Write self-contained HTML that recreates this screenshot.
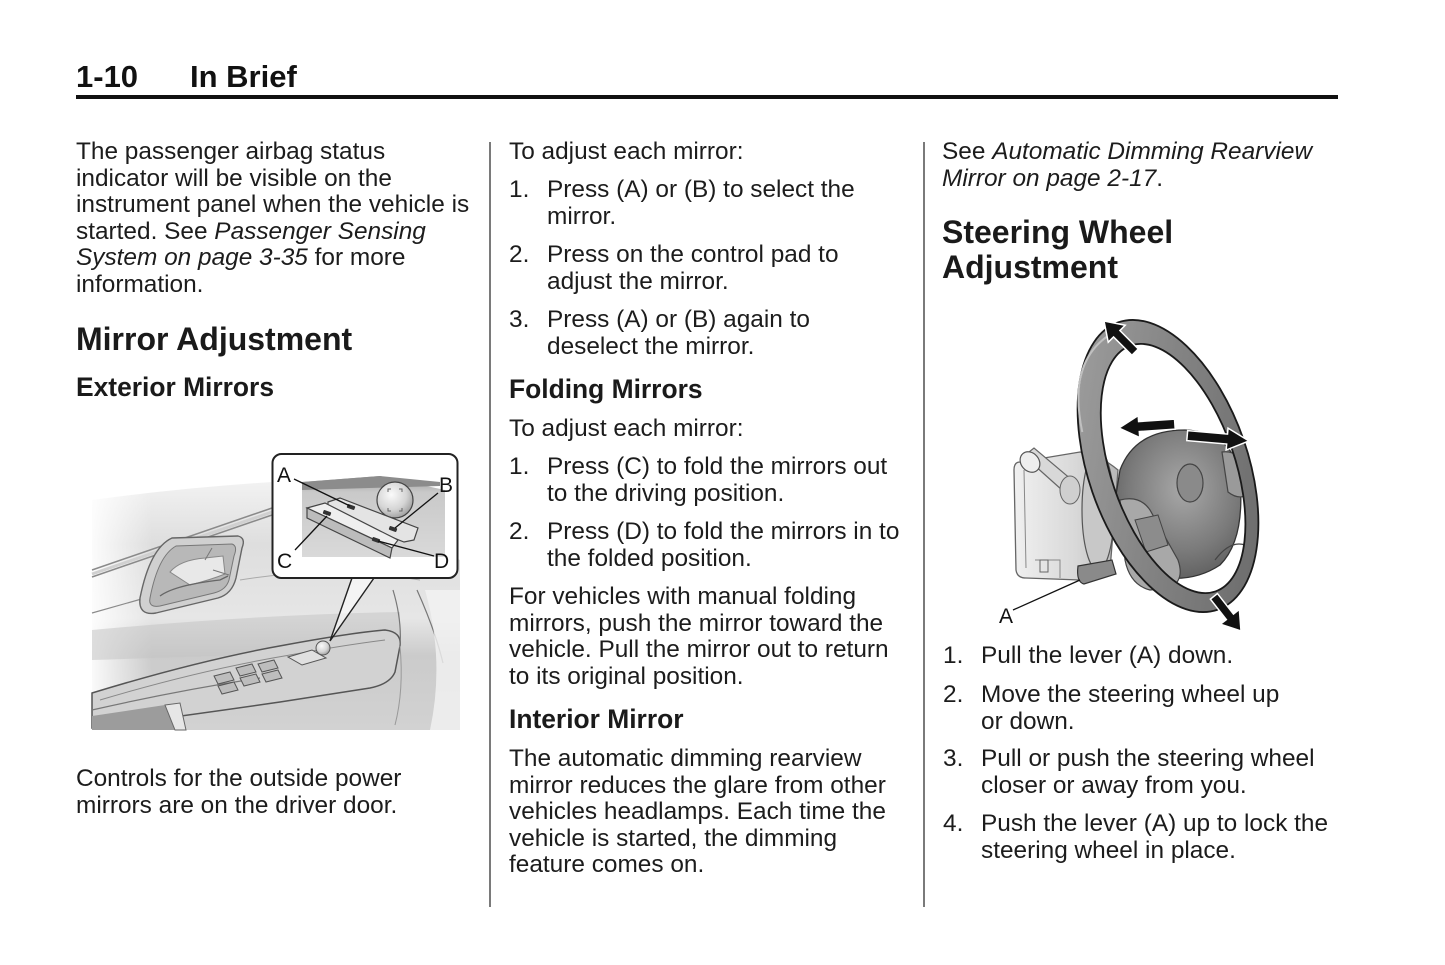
<!DOCTYPE html>
<html>
<head>
<meta charset="utf-8">
<style>
html,body{margin:0;padding:0;background:#fff;}
body{width:1445px;height:965px;position:relative;overflow:hidden;font-family:"Liberation Sans",Arial,sans-serif;color:#1c1c1c;}
.t{position:absolute;white-space:nowrap;font-size:24.4px;line-height:26.6px;}
.h1{position:absolute;white-space:nowrap;font-size:32px;line-height:35px;font-weight:bold;color:#1a1a1a;}
.h2{position:absolute;white-space:nowrap;font-size:26.4px;line-height:26px;font-weight:bold;color:#1a1a1a;}
.hd{position:absolute;white-space:nowrap;font-size:31px;line-height:31px;font-weight:bold;color:#111;}
.li{position:absolute;white-space:nowrap;font-size:24.4px;line-height:26.6px;}
.li .num{position:absolute;left:0;top:0;}
.li .tx{position:absolute;left:38px;top:0;}
svg{position:absolute;left:0;top:0;}
</style>
</head>
<body>
<svg width="1445" height="965" viewBox="0 0 1445 965" xmlns="http://www.w3.org/2000/svg">
<defs>
<linearGradient id="doorbg" x1="0" y1="0" x2="0" y2="1">
<stop offset="0" stop-color="#f2f2f2"/>
<stop offset="0.25" stop-color="#dedede"/>
<stop offset="0.55" stop-color="#e6e6e6"/>
<stop offset="0.7" stop-color="#cbcbcb"/>
<stop offset="1" stop-color="#d2d2d2"/>
</linearGradient>
<linearGradient id="fadeL" x1="0" y1="0" x2="1" y2="0">
<stop offset="0" stop-color="#fff" stop-opacity="0.9"/>
<stop offset="1" stop-color="#fff" stop-opacity="0"/>
</linearGradient>
<linearGradient id="photo" x1="0" y1="0" x2="0" y2="1">
<stop offset="0" stop-color="#9a9a9a"/>
<stop offset="0.2" stop-color="#c9c9c9"/>
<stop offset="1" stop-color="#d9d9d9"/>
</linearGradient>
<radialGradient id="knob" cx="0.4" cy="0.35" r="0.7">
<stop offset="0" stop-color="#fafafa"/>
<stop offset="0.6" stop-color="#d5d5d5"/>
<stop offset="1" stop-color="#9a9a9a"/>
</radialGradient>
<linearGradient id="rim" x1="0" y1="0" x2="1" y2="1">
<stop offset="0" stop-color="#a4a4a4"/>
<stop offset="0.5" stop-color="#828282"/>
<stop offset="1" stop-color="#666"/>
</linearGradient>
<radialGradient id="hub" cx="0.55" cy="0.4" r="0.7">
<stop offset="0" stop-color="#a8a8a8"/>
<stop offset="0.6" stop-color="#7a7a7a"/>
<stop offset="1" stop-color="#555"/>
</radialGradient>
<linearGradient id="col" x1="0" y1="0" x2="1" y2="0">
<stop offset="0" stop-color="#f0f0f0"/>
<stop offset="0.6" stop-color="#d8d8d8"/>
<stop offset="1" stop-color="#b8b8b8"/>
</linearGradient>
</defs>

<!-- header rule -->
<rect x="76" y="95" width="1262" height="4" fill="#111"/>
<!-- column dividers -->
<rect x="489" y="142" width="2" height="765" fill="#7a7a7a"/>
<rect x="923" y="142" width="2" height="765" fill="#7a7a7a"/>

<!-- ===== Door / mirror illustration ===== -->
<g>
<path d="M92,500 Q180,488 272,482 L460,560 L460,730 L92,730 Z" fill="url(#doorbg)"/>
<rect x="92" y="490" width="60" height="240" fill="url(#fadeL)"/>
<path d="M92,570 L272,508" stroke="#8a8a8a" stroke-width="1.5" fill="none"/>
<path d="M92,577 L272,515" stroke="#8a8a8a" stroke-width="1.5" fill="none"/>
<path d="M92,574 L272,512" stroke="#d0d0d0" stroke-width="3" fill="none"/>
<path d="M92,613 L145,598" stroke="#8a8a8a" stroke-width="1.2" fill="none"/>
<path d="M240,580 Q330,565 420,580" stroke="#aaa" stroke-width="1" fill="none"/>
<path d="M140,598 Q150,548 172,538 L238,536 Q246,538 242,548 L236,578 Q232,594 218,598 L156,613 Q138,616 140,598 Z" fill="#d0d0d0" stroke="#666" stroke-width="1.4"/>
<path d="M150,598 Q158,556 176,546 L232,544 Q238,546 234,556 L229,580 Q226,590 214,593 L160,606 Q148,608 150,598 Z" fill="#b8b8b8" stroke="#777" stroke-width="1"/>
<path d="M170,572 Q180,560 205,558 L223,556 L225,574 Q210,580 190,585 Z" fill="#e8e8e8" stroke="#888" stroke-width="1"/>
<path d="M160,596 Q175,585 220,580 L228,576" stroke="#666" stroke-width="1.3" fill="none"/>
<path d="M205,560 L212,548 M213,570 L229,575" stroke="#777" stroke-width="1" fill="none"/>
<path d="M92,630 Q250,615 400,612 L400,650 Q250,655 92,660 Z" fill="#c4c4c4" opacity="0.55"/>
<path d="M92,693 Q200,660 285,645 Q350,633 385,630 Q402,632 400,646 L395,672 Q390,684 370,688 L280,702 Q190,715 92,728 Z" fill="#d2d2d2" stroke="#555" stroke-width="1.5"/>
<path d="M100,700 Q200,670 290,655 Q345,645 385,640" stroke="#888" stroke-width="1" fill="none"/>
<path d="M92,710 Q180,690 260,678" stroke="#777" stroke-width="1.2" fill="none"/>
<g stroke="#555" stroke-width="1" fill="#bdbdbd">
<path d="M214,676 l16,-4 l4,8 l-16,4 z"/>
<path d="M218,686 l16,-4 l4,8 l-16,4 z"/>
<path d="M236,668 l16,-4 l4,8 l-16,4 z"/>
<path d="M240,678 l16,-4 l4,8 l-16,4 z"/>
<path d="M258,664 l16,-4 l4,8 l-16,4 z"/>
<path d="M262,674 l16,-4 l4,8 l-16,4 z"/>
</g>
<path d="M288,657 L312,650 L326,658 L302,665 Z" fill="#e0e0e0" stroke="#555" stroke-width="1"/>
<circle cx="323" cy="648" r="7" fill="url(#knob)" stroke="#555" stroke-width="1"/>
<path d="M92,716 L165,705 L175,730 L92,730 Z" fill="#9c9c9c"/>
<path d="M165,705 L180,703 L186,730 L175,730 Z" fill="#e6e6e6" stroke="#666" stroke-width="1"/>
<path d="M393,590 Q402,620 400,646" stroke="#777" stroke-width="1.2" fill="none"/>
<path d="M417,590 Q435,630 443,663" stroke="#777" stroke-width="1.2" fill="none"/>
<path d="M400,646 Q404,690 395,725" stroke="#999" stroke-width="1" fill="none"/>
<path d="M425,590 L460,590 L460,730 L430,730 Q445,660 425,590 Z" fill="#f2f2f2" opacity="0.8"/>
<path d="M352,578 L330,641 L374,578 Z" fill="#fff" opacity="0.6"/>
<path d="M352,578 L330,641 M374,578 L330,641" stroke="#222" stroke-width="1.4" fill="none"/>
<rect x="272.5" y="454" width="185" height="124" rx="9" ry="9" fill="#fff" stroke="#222" stroke-width="2"/>
<path d="M302,482 L380,476 L445,490 L445,557 L302,557 Z" fill="url(#photo)"/>
<path d="M302,482 L380,476 L440,482 L440,486 L302,490 Z" fill="#8c8c8c"/>
<circle cx="395" cy="500" r="18" fill="url(#knob)" stroke="#444" stroke-width="1.2"/>
<path d="M388,492 l0,-3 l3,0 M402,492 l0,-3 l-3,0 M388,508 l0,3 l3,0 M402,508 l0,3 l-3,0" stroke="#666" stroke-width="1" fill="none"/>
<path d="M328,502 L340,498 L418,528 L414,540 L404,542 L328,512 Z" fill="#e4e4e4" stroke="#444" stroke-width="1.2"/>
<path d="M307,508 L325,503 L398,540 L392,548 Z" fill="#efefef" stroke="#444" stroke-width="1.2"/>
<path d="M307,508 L307,518 L390,558 L392,548 Z" fill="#bcbcbc" stroke="#444" stroke-width="1.2"/>
<g fill="#333">
<rect x="347" y="505" width="8" height="4" rx="1" transform="rotate(20 351 507)"/>
<rect x="389" y="527" width="8" height="4" rx="1" transform="rotate(20 393 529)"/>
<rect x="323" y="511" width="8" height="4" rx="1" transform="rotate(20 327 513)"/>
<rect x="372" y="538" width="8" height="4" rx="1" transform="rotate(20 376 540)"/>
</g>
<g stroke="#111" stroke-width="1.3">
<line x1="294" y1="479" x2="350" y2="506"/>
<line x1="438" y1="493" x2="395" y2="528"/>
<line x1="295" y1="550" x2="327" y2="516"/>
<line x1="434" y1="556" x2="378" y2="541"/>
</g>
<g font-family="Liberation Sans, Arial, sans-serif" font-size="21" fill="#111">
<text x="277" y="482">A</text>
<text x="439" y="492">B</text>
<text x="277" y="568">C</text>
<text x="434" y="568">D</text>
</g>
</g>

<!-- ===== Steering wheel illustration ===== -->
<g>
<path d="M1020,462 Q1014,462 1014,470 L1016,570 Q1017,578 1026,578 L1080,580 L1110,570 L1118,470 Q1100,455 1080,452 Z" fill="url(#col)" stroke="#666" stroke-width="1.3"/>
<path d="M1024,470 L1026,568 M1035,560 L1060,560 L1060,578" stroke="#888" stroke-width="1" fill="none"/>
<rect x="1040" y="560" width="8" height="12" fill="none" stroke="#666" stroke-width="1"/>
<path d="M1024,456 L1034,448 L1072,480 L1062,490 Z" fill="#d8d8d8" stroke="#666" stroke-width="1.2"/>
<ellipse cx="1030" cy="462" rx="9" ry="11" transform="rotate(-40 1030 462)" fill="#eee" stroke="#555" stroke-width="1.2"/>
<ellipse cx="1070" cy="490" rx="10" ry="14" fill="#cfcfcf" stroke="#666" stroke-width="1"/>
<ellipse cx="1098" cy="510" rx="16" ry="60" fill="#c8c8c8" stroke="#555" stroke-width="1.2"/>
<path d="M1120,470 Q1135,430 1185,430 Q1235,432 1240,480 Q1245,540 1220,565 Q1190,585 1150,575 Q1115,560 1112,520 Z" fill="url(#hub)" stroke="#333" stroke-width="1.3"/>
<ellipse cx="1190" cy="483" rx="13" ry="19" fill="#8a8a8a" stroke="#444" stroke-width="1.2"/>
<path d="M1120,500 Q1140,495 1150,510 L1178,560 Q1185,580 1170,588 L1150,590 Q1130,585 1125,560 Z" fill="#a8a8a8" stroke="#444" stroke-width="1.2"/>
<path d="M1135,520 L1158,515 L1168,545 L1146,552 Z" fill="#8c8c8c" stroke="#444" stroke-width="1"/>
<path d="M1222,452 Q1240,450 1246,470 L1248,495 Q1238,500 1228,492 Z" fill="#9a9a9a" stroke="#444" stroke-width="1.2"/>
<path d="M1215,560 Q1230,540 1245,545" stroke="#444" stroke-width="1.2" fill="none"/>
<path d="M1078,566 L1112,560 L1116,574 L1084,584 Q1076,582 1078,566 Z" fill="#8a8a8a" stroke="#333" stroke-width="1.2"/>
<g transform="translate(1168,466) rotate(-19)">
<path d="M-80,0 A80,152 0 1 0 80,0 A80,152 0 1 0 -80,0 Z M-58,4 A62,130 0 1 0 66,4 A62,130 0 1 0 -58,4 Z" fill="url(#rim)" fill-rule="evenodd" stroke="#1a1a1a" stroke-width="1.8"/>
<path d="M-70,-60 Q-60,-140 0,-145" stroke="#c0c0c0" stroke-width="2" fill="none"/>
</g>
<g fill="#111" stroke="#fff" stroke-width="1.5" stroke-linejoin="miter">
<g transform="translate(1104,321) rotate(-135)"><polygon points="-44,-4.5 -18,-4.5 -18,-12 0,0 -18,12 -18,4.5 -44,4.5"/></g>
<g transform="translate(1241,631) rotate(52)"><polygon points="-44,-4.5 -18,-4.5 -18,-12 0,0 -18,12 -18,4.5 -44,4.5"/></g>
<g transform="translate(1119,428) rotate(176)"><polygon points="-56,-5 -20,-5 -20,-11 0,0 -20,11 -20,5 -56,5"/></g>
<g transform="translate(1249,441) rotate(5)"><polygon points="-62,-5 -22,-5 -22,-11 0,0 -22,11 -22,5 -62,5"/></g>
</g>
<line x1="1013" y1="610" x2="1080" y2="580" stroke="#111" stroke-width="1.3"/>
<text x="999" y="623" font-family="Liberation Sans, Arial, sans-serif" font-size="21" fill="#111">A</text>
</g>
</svg>

<!-- Header -->
<div class="hd" style="left:76px;top:61px;">1-10</div>
<div class="hd" style="left:190px;top:61px;">In Brief</div>

<!-- Column 1 -->
<div class="t" style="left:76px;top:139px;">The passenger airbag status<br>indicator will be visible on the<br>instrument panel when the vehicle is<br>started. See <i>Passenger Sensing</i><br><i>System on page 3-35</i> for more<br>information.</div>
<div class="h1" style="left:76px;top:323px;line-height:32px;">Mirror Adjustment</div>
<div class="h2" style="left:76px;top:374px;">Exterior Mirrors</div>
<div class="t" style="left:76px;top:766px;">Controls for the outside power<br>mirrors are on the driver door.</div>

<!-- Column 2 -->
<div class="t" style="left:509px;top:139px;">To adjust each mirror:</div>
<div class="li" style="left:509px;top:177px;"><span class="num">1.</span><span class="tx">Press (A) or (B) to select the<br>mirror.</span></div>
<div class="li" style="left:509px;top:242px;"><span class="num">2.</span><span class="tx">Press on the control pad to<br>adjust the mirror.</span></div>
<div class="li" style="left:509px;top:307px;"><span class="num">3.</span><span class="tx">Press (A) or (B) again to<br>deselect the mirror.</span></div>
<div class="h2" style="left:509px;top:376px;">Folding Mirrors</div>
<div class="t" style="left:509px;top:416px;">To adjust each mirror:</div>
<div class="li" style="left:509px;top:454px;"><span class="num">1.</span><span class="tx">Press (C) to fold the mirrors out<br>to the driving position.</span></div>
<div class="li" style="left:509px;top:519px;"><span class="num">2.</span><span class="tx">Press (D) to fold the mirrors in to<br>the folded position.</span></div>
<div class="t" style="left:509px;top:584px;">For vehicles with manual folding<br>mirrors, push the mirror toward the<br>vehicle. Pull the mirror out to return<br>to its original position.</div>
<div class="h2" style="left:509px;top:706px;">Interior Mirror</div>
<div class="t" style="left:509px;top:746px;">The automatic dimming rearview<br>mirror reduces the glare from other<br>vehicles headlamps. Each time the<br>vehicle is started, the dimming<br>feature comes on.</div>

<!-- Column 3 -->
<div class="t" style="left:942px;top:139px;">See <i>Automatic Dimming Rearview</i><br><i>Mirror on page 2-17</i>.</div>
<div class="h1" style="left:942px;top:215px;">Steering Wheel<br>Adjustment</div>
<div class="li" style="left:943px;top:643px;"><span class="num">1.</span><span class="tx">Pull the lever (A) down.</span></div>
<div class="li" style="left:943px;top:682px;"><span class="num">2.</span><span class="tx">Move the steering wheel up<br>or down.</span></div>
<div class="li" style="left:943px;top:746px;"><span class="num">3.</span><span class="tx">Pull or push the steering wheel<br>closer or away from you.</span></div>
<div class="li" style="left:943px;top:811px;"><span class="num">4.</span><span class="tx">Push the lever (A) up to lock the<br>steering wheel in place.</span></div>
</body>
</html>
